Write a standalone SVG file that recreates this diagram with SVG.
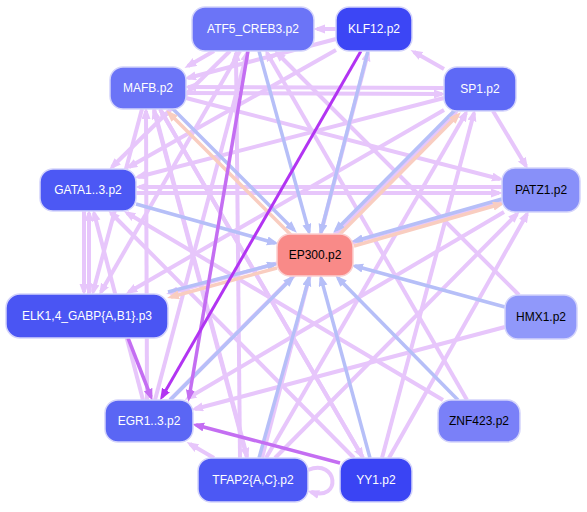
<svg xmlns="http://www.w3.org/2000/svg" width="587" height="512" viewBox="0 0 587 512">
<defs>
<style>
.pv{stroke:#e7c6fb;stroke-width:4;fill:none;marker-end:url(#ap)}
.bl{stroke:#b6bff8;stroke-width:3.5;fill:none;marker-end:url(#ab)}
.pe{stroke:#f9cdc0;stroke-width:3.5;fill:none;marker-end:url(#ae)}
.pu{stroke:#c46ef2;stroke-width:3.5;fill:none;marker-end:url(#au)}
.vp{stroke:#b234f2;stroke-width:3;fill:none;marker-end:url(#av)}
.n rect{stroke:#d4d4fb;stroke-width:1.5}
.n text{font-family:"Liberation Sans",Arial,sans-serif;font-size:12px;text-anchor:middle;fill:#ffffff}
.n text.k{fill:#000000}
</style>
<marker id="ap" markerUnits="userSpaceOnUse" markerWidth="13" markerHeight="10" refX="8" refY="4.5" orient="auto"><path d="M0,0 L12,4.5 L0,9 z" fill="#e7c6fb"/></marker>
<marker id="ab" markerUnits="userSpaceOnUse" markerWidth="13" markerHeight="10" refX="8" refY="4.5" orient="auto"><path d="M0,0 L12,4.5 L0,9 z" fill="#b6bff8"/></marker>
<marker id="ae" markerUnits="userSpaceOnUse" markerWidth="13" markerHeight="10" refX="8" refY="4.5" orient="auto"><path d="M0,0 L12,4.5 L0,9 z" fill="#f9cdc0"/></marker>
<marker id="au" markerUnits="userSpaceOnUse" markerWidth="13" markerHeight="10" refX="8" refY="4.5" orient="auto"><path d="M0,0 L12,4.5 L0,9 z" fill="#c46ef2"/></marker>
<marker id="av" markerUnits="userSpaceOnUse" markerWidth="13" markerHeight="10" refX="8" refY="4.5" orient="auto"><path d="M0,0 L12,4.5 L0,9 z" fill="#b234f2"/></marker>
</defs>
<rect width="587" height="512" fill="#ffffff"/>
<g id="edges">
<line class="pv" x1="336" y1="29" x2="317" y2="29"/>
<line class="pv" x1="444" y1="69" x2="414" y2="52"/>
<line class="pv" x1="214" y1="51" x2="188" y2="66"/>
<line class="pv" x1="444" y1="88" x2="188" y2="87"/>
<line class="pv" x1="186" y1="93" x2="442" y2="94"/>
<line class="pv" x1="444" y1="98" x2="138" y2="177"/>
<line class="pv" x1="444" y1="110" x2="129" y2="292"/>
<line class="pv" x1="493" y1="111" x2="526" y2="166"/>
<line class="pv" x1="84" y1="211" x2="84" y2="292"/>
<line class="pv" x1="89" y1="294" x2="89" y2="213"/>
<line class="pv" x1="136" y1="193" x2="499" y2="193"/>
<line class="pv" x1="502" y1="187" x2="139" y2="187"/>
<line class="pv" x1="502" y1="201" x2="170" y2="293"/>
<line class="pv" x1="505" y1="327" x2="195" y2="409"/>
<line class="pv" x1="443" y1="400" x2="127" y2="213"/>
<line class="pv" x1="363" y1="458" x2="161" y2="111"/>
<line class="pv" x1="382" y1="458" x2="474" y2="113"/>
<line class="pv" x1="389" y1="458" x2="527" y2="214"/>
<line class="pv" x1="354" y1="458" x2="111" y2="213"/>
<line class="pv" x1="240" y1="458" x2="236" y2="53"/>
<line class="pv" x1="262" y1="458" x2="368" y2="53"/>
<line class="pv" x1="247" y1="458" x2="154" y2="111"/>
<line class="pv" x1="266" y1="458" x2="466" y2="113"/>
<line class="pv" x1="275" y1="458" x2="517" y2="214"/>
<line class="pv" x1="214" y1="458" x2="190" y2="444"/>
<path class="pv" d="M308,470 C338,458 342,502 311,492"/>
<line class="pv" x1="155" y1="400" x2="247" y2="53"/>
<line class="pv" x1="147" y1="400" x2="146" y2="111"/>
<line class="pv" x1="170" y1="400" x2="456" y2="113"/>
<line class="pv" x1="143" y1="400" x2="94" y2="213"/>
<line class="pv" x1="142" y1="109" x2="93" y2="292"/>
<line class="pv" x1="154" y1="109" x2="247" y2="456"/>
<line class="pv" x1="160" y1="109" x2="362" y2="456"/>
<line class="pv" x1="186" y1="98" x2="500" y2="179"/>
<line class="pv" x1="240" y1="51" x2="101" y2="292"/>
<line class="pv" x1="230" y1="51" x2="112" y2="167"/>
<line class="pv" x1="336" y1="39" x2="188" y2="78"/>
<line class="pv" x1="336" y1="50" x2="129" y2="167"/>
<line class="pv" x1="504" y1="212" x2="188" y2="398"/>
<line class="pv" x1="467" y1="400" x2="267" y2="53"/>
<line class="pv" x1="519" y1="295" x2="277" y2="53"/>
<line class="bl" x1="259" y1="51" x2="309" y2="232"/>
<line class="bl" x1="368" y1="51" x2="321" y2="232"/>
<line class="bl" x1="171" y1="107" x2="294" y2="230"/>
<line class="pe" x1="292" y1="236" x2="169" y2="113"/>
<line class="bl" x1="456" y1="109" x2="336" y2="230"/>
<line class="pe" x1="338" y1="236" x2="458" y2="115"/>
<line class="bl" x1="136" y1="204" x2="275" y2="243"/>
<line class="bl" x1="502" y1="199" x2="355" y2="241"/>
<line class="pe" x1="354" y1="246" x2="501" y2="204"/>
<line class="bl" x1="505" y1="307" x2="355" y2="266"/>
<line class="bl" x1="458" y1="400" x2="338" y2="278"/>
<line class="bl" x1="170" y1="400" x2="292" y2="278"/>
<line class="bl" x1="259" y1="458" x2="309" y2="278"/>
<line class="bl" x1="370" y1="458" x2="321" y2="278"/>
<line class="bl" x1="168" y1="292" x2="275" y2="264"/>
<line class="pe" x1="277" y1="268" x2="171" y2="297"/>
<line class="pu" x1="248" y1="51" x2="189" y2="398"/>
<line class="pu" x1="340" y1="463" x2="196" y2="425"/>
<line class="pu" x1="128" y1="338" x2="151" y2="397"/>
<line class="vp" x1="361" y1="51" x2="162" y2="397"/>
</g>
<g id="ATF5_CREB3" class="n"><rect x="192" y="7" width="122" height="44" rx="13" fill="#6b74f7"/><text x="253" y="33">ATF5_CREB3.p2</text></g>
<g id="KLF12" class="n"><rect x="336" y="7" width="76" height="44" rx="13" fill="#3c46f5"/><text x="374" y="33">KLF12.p2</text></g>
<g id="MAFB" class="n"><rect x="110" y="67" width="76" height="42" rx="13" fill="#6b74f7"/><text x="148" y="92">MAFB.p2</text></g>
<g id="SP1" class="n"><rect x="444" y="67" width="72" height="44" rx="13" fill="#5e69f6"/><text x="480" y="93">SP1.p2</text></g>
<g id="GATA1_3" class="n"><rect x="40" y="169" width="96" height="42" rx="13" fill="#4c58f4"/><text x="88" y="194">GATA1..3.p2</text></g>
<g id="PATZ1" class="n"><rect x="502" y="168" width="78" height="44" rx="13" fill="#8890f9"/><text class="k" x="541" y="194">PATZ1.p2</text></g>
<g id="EP300" class="n"><rect x="277" y="234" width="76" height="42" rx="13" fill="#f98a88" style="stroke:#fbd0d0"/><text class="k" x="315" y="259">EP300.p2</text></g>
<g id="ELK1_4" class="n"><rect x="6" y="294" width="162" height="44" rx="14" fill="#4a55f3"/><text x="87" y="320">ELK1,4_GABP{A,B1}.p3</text></g>
<g id="HMX1" class="n"><rect x="505" y="295" width="72" height="44" rx="13" fill="#9098fa"/><text class="k" x="541" y="321">HMX1.p2</text></g>
<g id="EGR1_3" class="n"><rect x="105" y="400" width="88" height="42" rx="13" fill="#5a66f4"/><text x="149" y="425">EGR1..3.p2</text></g>
<g id="ZNF423" class="n"><rect x="438" y="400" width="82" height="42" rx="13" fill="#7a80f8"/><text class="k" x="479" y="425">ZNF423.p2</text></g>
<g id="TFAP2" class="n"><rect x="198" y="458" width="110" height="44" rx="13" fill="#4c58f4"/><text x="253" y="484">TFAP2{A,C}.p2</text></g>
<g id="YY1" class="n"><rect x="340" y="458" width="72" height="44" rx="13" fill="#3a44f4"/><text x="376" y="484">YY1.p2</text></g>
</svg>
